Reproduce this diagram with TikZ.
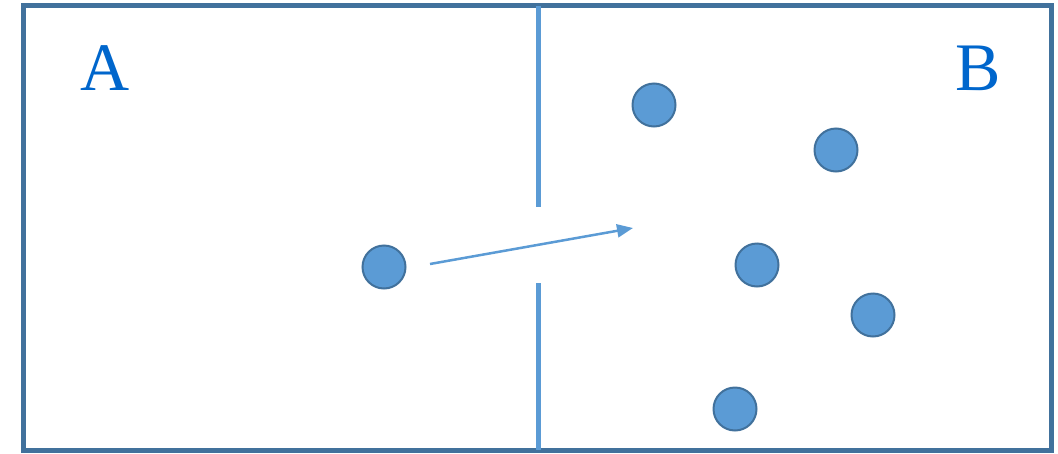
\documentclass[tikz,border=0pt]{standalone}
\usepackage{fontspec}
\setmainfont{Liberation Serif}
\usetikzlibrary{arrows.meta}
\definecolor{frameblue}{HTML}{41719C}
\definecolor{fillblue}{HTML}{5B9BD5}
\definecolor{letterblue}{HTML}{0066CC}
\tikzset{
  particle/.style={circle, draw=frameblue, fill=fillblue, line width=2pt, minimum size=43pt, inner sep=0pt},
  wall/.style={draw=fillblue, line width=5pt},
  label/.style={text=letterblue, font=\fontsize{68}{68}\selectfont, inner sep=0pt},
  move/.style={draw=fillblue, line width=2.5pt, -{Triangle[length=16pt,width=13pt]}}
}
\begin{document}
\begin{tikzpicture}[x=1pt,y=-1pt]
\useasboundingbox (0,0) rectangle (1058,453);
\draw[draw=frameblue, line width=5pt] (23.5,5.5) rectangle (1051,450);
\coordinate (w1) at (538,5.5);
\coordinate (w2) at (538,207);
\coordinate (w3) at (538,283);
\coordinate (w4) at (538,450);
\draw[wall] (w1) -- (w2);
\draw[wall] (w3) -- (w4);
\node[label] (A) at (105,68) {A};
\node[label] (B) at (978,68) {B};
\node[particle] (p0) at (384,267) {};
\node[particle] (p1) at (654,105) {};
\node[particle] (p2) at (836,150) {};
\node[particle] (p3) at (757,265) {};
\node[particle] (p4) at (873,315) {};
\node[particle] (p5) at (735,409) {};
\coordinate (a1) at (430,264);
\coordinate (a2) at (633,228);
\draw[move] (a1) -- (a2);
\end{tikzpicture}
\end{document}
